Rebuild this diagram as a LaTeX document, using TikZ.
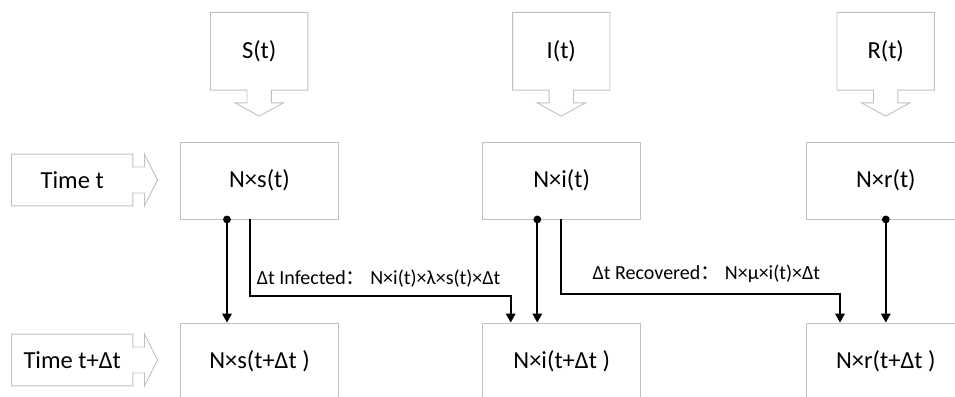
\documentclass[tikz,border=0pt]{standalone}
\usepackage{fontspec}
\setmainfont{Carlito}
\newfontfamily\cjk{Noto Sans CJK SC}
\usetikzlibrary{arrows.meta,calc}
\definecolor{boxgray}{RGB}{192,192,192}
\tikzset{
  boxtext/.style={font=\fontsize{24.5}{29}\selectfont, text=black},
  cell/.style={boxtext, draw=boxgray, line width=0.9pt, minimum width=158pt, minimum height=77pt, inner sep=0pt},
  callbox/.style={boxtext, minimum width=97pt, minimum height=77.3pt, inner sep=0pt},
  timebox/.style={boxtext, minimum width=121pt, minimum height=51.4pt, inner sep=0pt},
  callline/.style={draw=boxgray, line width=0.9pt},
  conn/.style={draw=black, line width=1.7pt, -{Triangle[width=9.5pt,length=9pt]}},
  lab/.style={font=\fontsize{20}{24}\selectfont, text=black, inner sep=0pt},
}
\newcommand\dcall[1]{\draw[callline] (#1.north west) -- (#1.north east) -- (#1.south east)
  -- ($(#1.south)+(12.2,0)$) -- ++(0,12.7) -- ++(12,0) -- ($(#1.south)+(0,26)$)
  -- ($(#1.south)+(-24.2,12.7)$) -- ++(12,0) -- ++(0,-12.7) -- (#1.south west) -- cycle;}
\newcommand\rcall[1]{\draw[callline] (#1.south west) -- (#1.north west) -- (#1.north east)
  -- ($(#1.east)+(0,-13)$) -- ++(11.6,0) -- ($(#1.north east)+(11.6,0)$)
  -- ($(#1.east)+(24.6,0)$) -- ($(#1.south east)+(11.6,0)$)
  -- ($(#1.east)+(11.6,13)$) -- ($(#1.east)+(0,13)$) -- (#1.south east) -- cycle;}
\newcommand\dotat[1]{\fill[black] (#1) circle (3.9pt);}
\begin{document}
\begin{tikzpicture}[x=1pt,y=-1pt]
\useasboundingbox (0,0) rectangle (955,396);
% callouts
\node[callbox] (S) at (259.2,51.3) {S(t)};
\node[callbox] (I) at (561.3,51.3) {I(t)};
\node[callbox] (R) at (885.7,51.3) {R(t)};
\dcall{S}\dcall{I}\dcall{R}
\node[timebox] (T1) at (72.2,180) {Time t};
\node[timebox] (T2) at (72.2,360) {Time t+Δt};
\rcall{T1}\rcall{T2}
% cells
\node[cell] (Ns) at (259.5,180.5) {N×s(t)};
\node[cell] (Ni) at (561.7,180.5) {N×i(t)};
\node[cell] (Nr) at (885.8,180.5) {N×r(t)};
\node[cell] (Ms) at (259.5,361.5) {N×s(t+Δt )};
\node[cell] (Mi) at (561.7,361.5) {N×i(t+Δt )};
\node[cell] (Mr) at (885.8,361.5) {N×r(t+Δt )};
% connectors
\coordinate (s0) at ($(Ns.south)+(-32.5,0)$);
\coordinate (i0) at ($(Ni.south)+(-24.4,0)$);
\coordinate (r0) at (Nr.south);
\draw[conn] (s0) -- ($(Ms.north)+(-32.5,0)$);
\draw[conn] (i0) -- ($(Mi.north)+(-24.4,0)$);
\draw[conn] (r0) -- (Mr.north);
\dotat{s0}\dotat{i0}\dotat{r0}
\draw[conn] ($(Ns.south)+(-9.8,0)$) -- ++(0,76.5) -| ($(Mi.north)+(-51,0)$);
\draw[conn] ($(Ni.south)+(-0.4,0)$) -- ++(0,74.5) -| ($(Mr.north)+(-45.8,0)$);
% labels
\node[lab, anchor=base west] (L1) at (256.7,284.3) {Δt Infected{\cjk ：} N×i(t)×λ×s(t)×Δt};
\node[lab, anchor=base west] (L2) at (592.5,279.3) {Δt Recovered{\cjk ：} N×μ×i(t)×Δt};
\end{tikzpicture}
\end{document}
